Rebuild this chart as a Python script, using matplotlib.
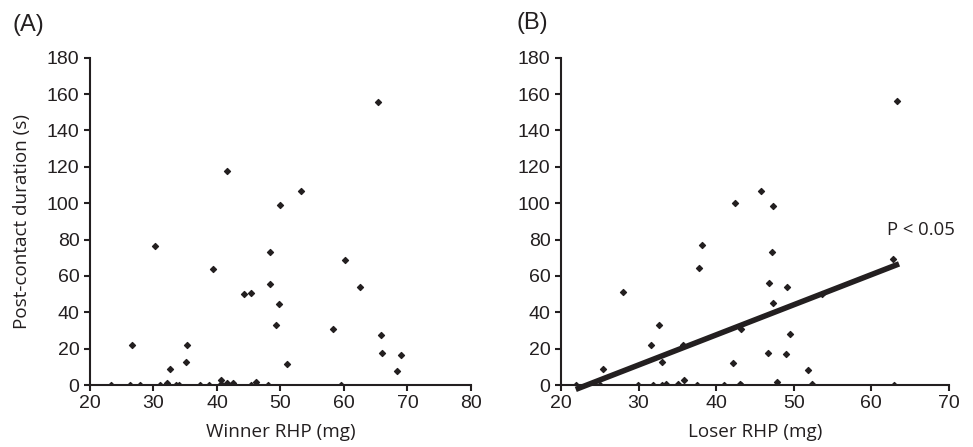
import numpy as np
from matplotlib import pyplot as plt

plt.rcParams['font.family'] = ['Liberation Sans', 'DejaVu Sans']

# Panel A: winner RHP (mg) vs post-contact duration (s)
winner_rhp = [23.3, 26.3, 26.6, 27.8, 30.3, 31.0, 32.2, 32.6, 33.5, 34.0,
              35.1, 35.3, 37.3, 38.7, 39.4, 40.6, 40.6, 41.6, 42.5, 44.3,
              45.3, 45.4, 46.2, 48.0, 48.3, 48.3, 49.3, 49.7, 50.0, 51.0,
              58.2, 59.6, 60.2, 62.6, 65.8, 66.0, 68.3, 69.0, 41.6, 53.2,
              65.4]
winner_dur = [0, 0, 21.8, 0, 76.7, 0, 0.9, 8.8, 0, 0,
              12.6, 21.8, 0, 0, 63.7, 2.7, 0.4, 0.9, 0.9, 49.8,
              0, 50.7, 1.8, 0, 72.9, 55.7, 33.0, 44.5, 98.9, 11.7,
              30.6, 0, 68.7, 53.7, 27.7, 17.6, 7.9, 16.7, 117.6, 106.6,
              155.7]

# Panel B: loser RHP (mg) vs post-contact duration (s)
loser_rhp = [21.9, 25.0, 25.4, 28.0, 29.9, 31.6, 31.9, 32.7, 33.0, 33.0,
             33.5, 35.1, 35.7, 35.9, 37.6, 37.8, 38.2, 41.0, 42.2, 43.1,
             43.2, 43.2, 46.7, 46.8, 47.2, 47.3, 47.9, 49.0, 49.2, 49.5,
             51.8, 52.4, 53.6, 62.9, 62.8, 42.4, 45.8, 47.4, 63.3]
loser_dur = [0, 0, 8.9, 51.0, 0, 21.9, 0, 33.1, 12.7, 0,
             0.7, 0.7, 22.1, 2.7, 0, 64.1, 77.1, 0, 11.9, 0.7,
             30.9, 0, 17.7, 55.9, 73.3, 44.9, 1.8, 16.8, 53.9, 27.9,
             8.0, 0.7, 50.1, 0, 69.1, 100.0, 106.7, 98.7, 156.2]

# extremos de la recta de regresión
fit_x = [21.9, 63.6]
fit_y = [-2.4, 66.6]

INK = '#231f20'
label_font = ['Open Sans', 'DejaVu Sans']

fig = plt.figure(figsize=(9.73, 4.47), dpi=100)
axA = fig.add_axes([0.0925, 0.1387, 0.3915, 0.7323])
axB = fig.add_axes([0.5766, 0.1387, 0.3984, 0.7323])

for ax in (axA, axB):
    for s in ('top', 'right'):
        ax.spines[s].set_visible(False)
    for s in ('left', 'bottom'):
        ax.spines[s].set_linewidth(1.5)
        ax.spines[s].set_color(INK)
    ax.tick_params(direction='out', length=4.5, width=1.5, color=INK,
                   labelsize=14, labelcolor=INK, pad=3)
    ax.set_ylim(0, 180)
    ax.set_yticks(np.arange(0, 181, 20))

axA.scatter(winner_rhp, winner_dur, marker='D', s=9, color=INK, zorder=3)
axA.set_xlim(20, 80)
axA.set_xticks(np.arange(20, 81, 10))
axA.set_xlabel('Winner RHP (mg)', fontsize=13.6, color=INK, family=label_font)
axA.xaxis.set_label_coords(0.5, -0.116)
axA.set_ylabel('Post-contact duration (s)', fontsize=13.6, color=INK, family=label_font)
axA.yaxis.set_label_coords(-0.155, 0.5)

axB.scatter(loser_rhp, loser_dur, marker='D', s=9, color=INK, zorder=3)
axB.plot(fit_x, fit_y, color=INK, linewidth=4, solid_capstyle='butt',
         clip_on=False, zorder=2)
axB.set_xlim(20, 70)
axB.set_xticks(np.arange(20, 71, 10))
axB.set_xlabel('Loser RHP (mg)', fontsize=13.6, color=INK, family=label_font)
axB.xaxis.set_label_coords(0.5, -0.116)
axB.text(62.0, 85, 'P < 0.05', fontsize=13.3, color=INK, va='center', ha='left',
         family=label_font)

fig.text(0.013, 0.944, '(A)', fontsize=17, color=INK, va='center')
fig.text(0.531, 0.949, '(B)', fontsize=17, color=INK, va='center')

plt.savefig('out.png', dpi=100)
